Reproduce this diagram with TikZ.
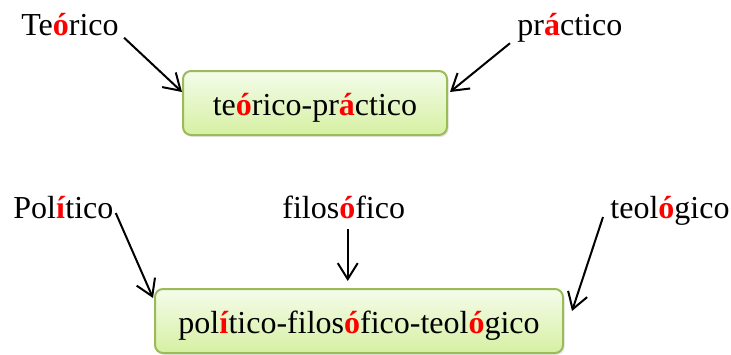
\documentclass[tikz,border=0pt]{standalone}
\usepackage{fontspec}
\setmainfont{Liberation Serif}
\usepackage{xcolor}
\usetikzlibrary{arrows.meta,shadows}

\definecolor{boxline}{HTML}{9BBB59}
\definecolor{boxtop}{HTML}{F5FCEB}
\definecolor{boxbottom}{HTML}{D5F0A2}
\newcommand{\rojo}[1]{\textcolor{red}{\textbf{#1}}}

\begin{document}
\begin{tikzpicture}[x=0.5pt, y=-0.5pt,
    every node/.style={font=\fontsize{16}{19}\selectfont},
    word/.style={inner sep=0pt, anchor=base west},
    combo/.style={draw=boxline, line width=1pt, rounded corners=4pt,
        top color=boxtop, bottom color=boxbottom, minimum height=32pt,
        text height=12pt, text depth=0pt, inner sep=0pt,
        drop shadow={opacity=0.2, shadow xshift=0.8pt, shadow yshift=-1pt}},
    arr/.style={-{Straight Barb[length=8pt, width=10pt]}, line width=1pt}]
    \useasboundingbox (0,0) rectangle (731,354);

    % primera combinacion
    \node[combo, minimum width=132pt] (tp) at (315,103) {te\rojo{ó}rico-pr\rojo{á}ctico};
    \node[word] (teo) at (21,35) {Te\rojo{ó}rico};
    \node[word] (pra) at (517,35) {pr\rojo{á}ctico};

    \draw[arr] ([shift={(5,2)}]teo.south east) -- ([shift={(0,22)}]tp.north west);
    \draw[arr] ([shift={(-7,1)}]pra.south west) -- ([shift={(2,22)}]tp.north east);

    % segunda combinacion
    \node[combo, minimum width=204pt] (pft) at (359,321) {pol\rojo{í}tico-filos\rojo{ó}fico-teol\rojo{ó}gico};
    \node[word] (pol) at (13,218) {Pol\rojo{í}tico};
    \node[word] (fil) at (282,218) {filos\rojo{ó}fico};
    \node[word] (teol) at (610,218) {teol\rojo{ó}gico};

    \draw[arr] ([shift={(2,-5)}]pol.base east) -- ([shift={(-1,10)}]pft.north west);
    \draw[arr] ([shift={(4,11)}]fil.base) coordinate (f1) -- ([yshift=3.5pt]f1 |- pft.north);
    \draw[arr] ([shift={(-7,-1)}]teol.base west) -- ([shift={(8,23)}]pft.north east);
\end{tikzpicture}
\end{document}
